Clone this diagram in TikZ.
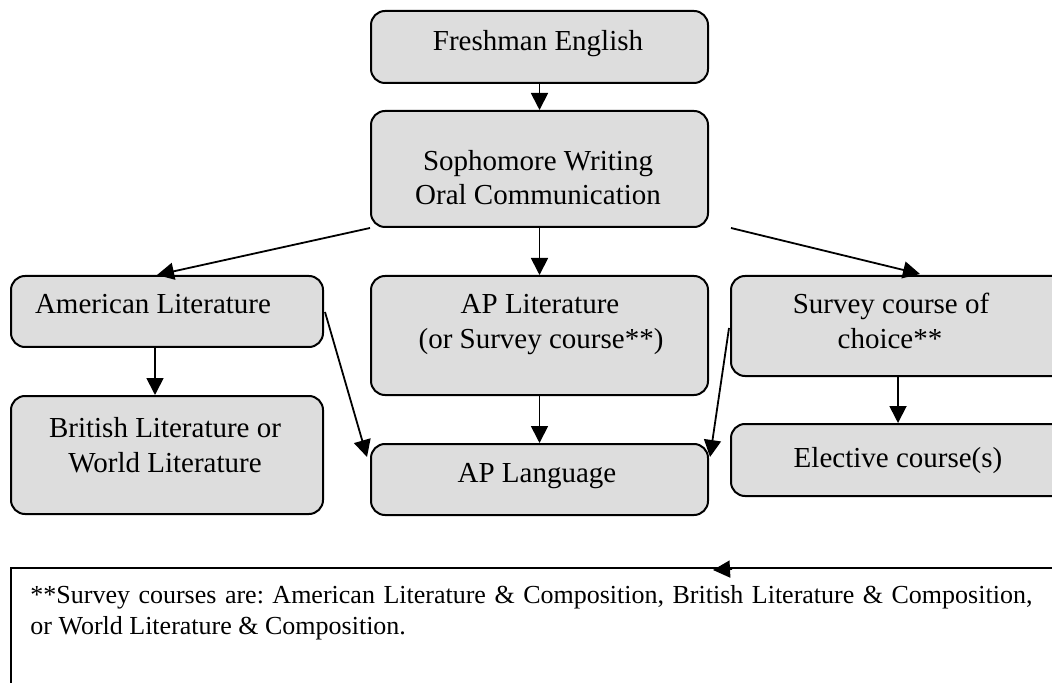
\documentclass[tikz,border=0pt]{standalone}
\usepackage{fontspec}
\setmainfont{Liberation Serif}
\usetikzlibrary{arrows.meta,calc}
\definecolor{boxfill}{RGB}{221,221,221}
\frenchspacing
\begin{document}
\begin{tikzpicture}[x=0.5pt,y=-0.5pt,
  course/.style={draw=black, line width=1pt, rounded corners=7pt, fill=boxfill,
    inner sep=0pt, anchor=north west},
  label/.style={inner sep=0pt, anchor=base, font=\fontsize{14.5}{17}\selectfont},
  notetext/.style={inner sep=0pt, anchor=base west, font=\fontsize{13}{15}\selectfont},
  flow/.style={draw=black, line width=0.9pt, -{Triangle[length=8.5pt,width=8.5pt]}}]
\useasboundingbox (0,0) rectangle (1052,683);
\clip (0,0) rectangle (1052,683);

% course boxes
\node[course, minimum width=168.5pt, minimum height=36pt]   (fresh)  at (370,10)  {};
\node[course, minimum width=168.5pt, minimum height=58pt]   (soph)   at (370,110) {};
\node[course, minimum width=156pt,   minimum height=35.5pt] (amer)   at (10,275)  {};
\node[course, minimum width=168.5pt, minimum height=59.5pt] (aplit)  at (370,275) {};
\node[course, minimum width=175pt,   minimum height=50pt]   (survey) at (730,275) {};
\node[course, minimum width=156pt,   minimum height=59pt]   (brit)   at (10,395)  {};
\node[course, minimum width=168.5pt, minimum height=35.5pt] (aplang) at (370,443) {};
\node[course, minimum width=175pt,   minimum height=36pt]   (elect)  at (730,423) {};

% footnote frame
\node[draw=black, line width=1pt, inner sep=0pt, anchor=north west,
      minimum width=560pt, minimum height=80pt] (note) at (10,567) {};

% box texts
\node[label] (freshT)  at (538,51)  {Freshman English};
\node[label] (sophT1)  at (538,171) {Sophomore Writing};
\node[label] (sophT2)  at (538,205) {Oral Communication};
\node[label] (amerT)   at (153,314) {American Literature};
\node[label] (aplitT1) at (540,314) {AP Literature};
\node[label] (aplitT2) at (541,349) {(or Survey course**)};
\node[label] (survT1)  at (891,314) {Survey course of};
\node[label] (survT2)  at (890,349) {choice**};
\node[label] (britT1)  at (165,437) {British Literature or};
\node[label] (britT2)  at (165,472) {World Literature};
\node[label] (aplangT) at (537,482) {AP Language};
\node[label] (electT)  at (898,467) {Elective course(s)};
% the first footnote line is justified to the full text width
\node[notetext] (noteT1) at (30,603) {\makebox[501pt][s]{**Survey courses are: American Literature \& Composition, British Literature \& Composition,}};
\node[notetext] (noteT2) at (30,634) {or World Literature \& Composition.};

% connectors
\draw[flow] (fresh.south) -- (soph.north);
\draw[flow] (soph.south west) -- ($(amer.north west)+(147,0)$);
\draw[flow] (soph.south) -- (aplit.north);
\draw[flow] ($(soph.south east)+(22,0)$) -- ($(survey.north west)+(190,-1)$);
\draw[flow] ($(amer.south west)+(145,0)$) -- ($(brit.north west)+(145,0)$);
\draw[flow] ($(amer.north east)+(1,37)$) -- ($(aplang.north west)+(-3,14)$);
\draw[flow] ($(survey.north west)+(-1,53)$) -- ($(aplang.north east)+(1,14)$);
\draw[flow] (aplit.south) -- (aplang.north);
\draw[flow] ($(survey.south west)+(168,0)$) -- ($(elect.north west)+(168,0)$);
\draw[flow] ($(note.north west)+(722,2)$) -- ($(note.north west)+(703,3)$);
\end{tikzpicture}
\end{document}
